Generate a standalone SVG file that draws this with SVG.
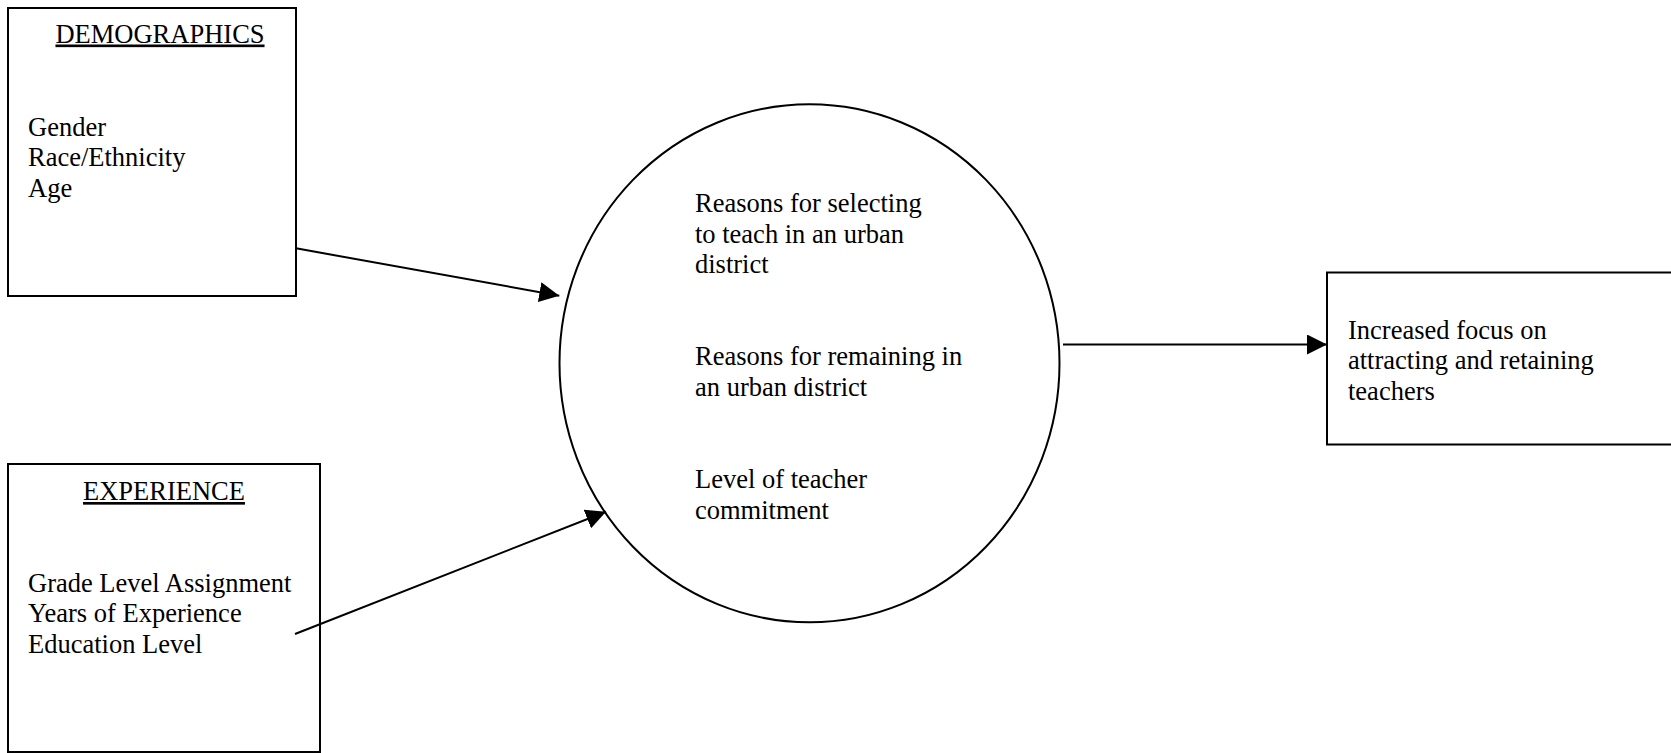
<svg xmlns="http://www.w3.org/2000/svg" width="1671" height="753" viewBox="0 0 1671 753">
  <style>
    .box { fill: #ffffff; stroke: #000000; stroke-width: 2; }
    .conn { fill: none; stroke: #000000; stroke-width: 2; }
    text { font-family: "Liberation Serif", "Times New Roman", serif; font-size: 26.5px; fill: #000000; }
    .hdr { text-decoration: underline; text-anchor: middle; }
  </style>
  <defs>
    <marker id="arrow" markerUnits="userSpaceOnUse" markerWidth="20" markerHeight="20" refX="20" refY="10" orient="auto">
      <path d="M0,0 L20,10 L0,20 Z" fill="#000000"/>
    </marker>
  </defs>
  <rect width="1671" height="753" fill="#ffffff"/>

  <g id="demographics">
    <rect class="box" x="8" y="8" width="288" height="288"/>
    <text class="hdr" x="160" y="42.5">DEMOGRAPHICS</text>
    <text x="28" y="136">Gender</text>
    <text x="28" y="166">Race/Ethnicity</text>
    <text x="28" y="196.5">Age</text>
  </g>

  <g id="experience">
    <rect class="box" x="8" y="464" width="312" height="288"/>
    <text class="hdr" x="164" y="500">EXPERIENCE</text>
    <text x="28" y="591.5">Grade Level Assignment</text>
    <text x="28" y="622">Years of Experience</text>
    <text x="28" y="652.5">Education Level</text>
  </g>

  <g id="reasons">
    <ellipse class="box" cx="809.5" cy="363.3" rx="250" ry="259"/>
    <text x="695" y="212">Reasons for selecting</text>
    <text x="695" y="242.5">to teach in an urban</text>
    <text x="695" y="273">district</text>
    <text x="695" y="365">Reasons for remaining in</text>
    <text x="695" y="395.5">an urban district</text>
    <text x="695" y="488">Level of teacher</text>
    <text x="695" y="518.5">commitment</text>
  </g>

  <g id="outcome">
    <rect class="box" x="1327" y="272.5" width="400" height="172"/>
    <text x="1348" y="338.5">Increased focus on</text>
    <text x="1348" y="369">attracting and retaining</text>
    <text x="1348" y="399.5">teachers</text>
  </g>

  <g id="connectors">
    <line class="conn" x1="296" y1="248.3" x2="559.3" y2="295.7" marker-end="url(#arrow)"/>
    <line class="conn" x1="295" y1="634" x2="606" y2="511.7" marker-end="url(#arrow)"/>
    <line class="conn" x1="1063" y1="344.5" x2="1327" y2="344.5" marker-end="url(#arrow)"/>
  </g>
</svg>
